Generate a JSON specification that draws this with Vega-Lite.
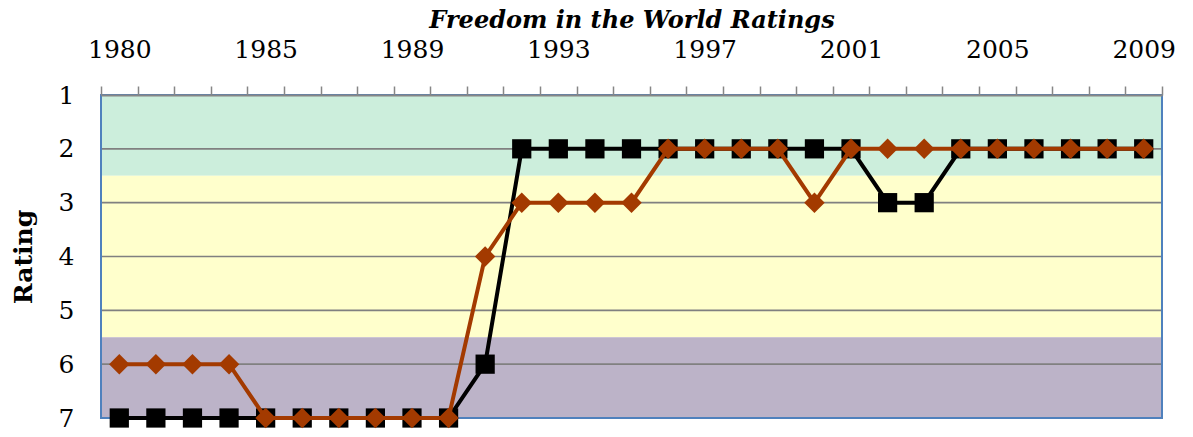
{
  "$schema": "https://vega.github.io/schema/vega-lite/v6.json",
  "autosize": {"type": "none"},
  "padding": {"left": 101, "top": 95, "right": 31, "bottom": 19},
  "width": 1061,
  "height": 323,
  "background": "white",
  "config": {"view": {"stroke": null}},
  "datasets": {
    "ratings": [
      {"year": "1980", "a": 7, "b": 6},
      {"year": "1982", "a": 7, "b": 6},
      {"year": "1983", "a": 7, "b": 6},
      {"year": "1984", "a": 7, "b": 6},
      {"year": "1985", "a": 7, "b": 7},
      {"year": "1986", "a": 7, "b": 7},
      {"year": "1987", "a": 7, "b": 7},
      {"year": "1988", "a": 7, "b": 7},
      {"year": "1989", "a": 7, "b": 7},
      {"year": "1990", "a": 7, "b": 7},
      {"year": "1991", "a": 6, "b": 4},
      {"year": "1992", "a": 2, "b": 3},
      {"year": "1993", "a": 2, "b": 3},
      {"year": "1994", "a": 2, "b": 3},
      {"year": "1995", "a": 2, "b": 3},
      {"year": "1996", "a": 2, "b": 2},
      {"year": "1997", "a": 2, "b": 2},
      {"year": "1998", "a": 2, "b": 2},
      {"year": "1999", "a": 2, "b": 2},
      {"year": "2000", "a": 2, "b": 3},
      {"year": "2001", "a": 2, "b": 2},
      {"year": "2002", "a": 3, "b": 2},
      {"year": "2003", "a": 3, "b": 2},
      {"year": "2004", "a": 2, "b": 2},
      {"year": "2005", "a": 2, "b": 2},
      {"year": "2006", "a": 2, "b": 2},
      {"year": "2007", "a": 2, "b": 2},
      {"year": "2008", "a": 2, "b": 2},
      {"year": "2009", "a": 2, "b": 2}
    ],
    "bands": [
      {"band": "Free", "lo": 1, "hi": 2.5},
      {"band": "Partly Free", "lo": 2.5, "hi": 5.5},
      {"band": "Not Free", "lo": 5.5, "hi": 7}
    ],
    "grid": [{"r": 2}, {"r": 3}, {"r": 4}, {"r": 5}, {"r": 6}]
  },
  "layer": [
    {
      "data": {"name": "bands"},
      "mark": {"type": "rect"},
      "encoding": {
        "y": {"field": "lo", "type": "quantitative"},
        "y2": {"field": "hi"},
        "fill": {"field": "band", "type": "nominal", "legend": null,
          "scale": {"domain": ["Free", "Partly Free", "Not Free"], "range": ["#CCEEDC", "#FFFFCC", "#BCB3C8"]}}
      }
    },
    {
      "data": {"name": "grid"},
      "mark": {"type": "rule", "color": "#808080", "strokeWidth": 1.6},
      "encoding": {"y": {"field": "r", "type": "quantitative"}}
    },
    {
      "data": {"values": [{"top": 1, "bottom": 7}]},
      "mark": {"type": "rect", "fill": null, "stroke": "#4F81BD", "strokeWidth": 2},
      "encoding": {
        "y": {"field": "top", "type": "quantitative"},
        "y2": {"field": "bottom"}
      }
    },
    {
      "data": {"name": "ratings"},
      "mark": {"type": "line", "color": "#000000", "strokeWidth": 4,
        "point": {"shape": "square", "size": 370, "filled": true, "color": "#000000"}},
      "encoding": {
        "x": {"field": "year", "type": "ordinal",
          "scale": {"type": "band", "paddingInner": 0, "paddingOuter": 0},
          "axis": {
            "orient": "top", "zindex": 1, "labelAngle": 0,
            "tickBand": "extent", "tickSize": 9, "tickWidth": 1.5, "tickColor": "#868686",
            "domainColor": "#868686", "domainWidth": 2,
            "labelFont": "DejaVu Serif", "labelFontSize": 25, "labelColor": "#000000", "labelPadding": 24,
            "labelExpr": "indexof(['1980','1985','1989','1993','1997','2001','2005','2009'], datum.label) >= 0 ? datum.label : ''",
            "title": "Freedom in the World Ratings",
            "titleFont": "DejaVu Serif", "titleFontStyle": "italic", "titleFontWeight": "bold",
            "titleFontSize": 24, "titleColor": "#000000", "titlePadding": 5
          }},
        "y": {"field": "a", "type": "quantitative",
          "scale": {"domain": [1, 7], "reverse": true, "nice": false, "zero": false},
          "axis": {
            "values": [1, 2, 3, 4, 5, 6, 7], "format": "d", "grid": false, "ticks": false, "domain": false,
            "labelFont": "DejaVu Serif", "labelFontSize": 25, "labelColor": "#000000", "labelPadding": 27,
            "title": "Rating", "titleFont": "DejaVu Serif", "titleFontWeight": "bold",
            "titleFontSize": 25, "titleColor": "#000000", "titlePadding": 22
          }}
      }
    },
    {
      "data": {"name": "ratings"},
      "mark": {"type": "line", "color": "#A33A00", "strokeWidth": 4,
        "point": {"shape": "diamond", "size": 420, "filled": true, "color": "#A33A00"}},
      "encoding": {
        "x": {"field": "year", "type": "ordinal"},
        "y": {"field": "b", "type": "quantitative"}
      }
    }
  ]
}
